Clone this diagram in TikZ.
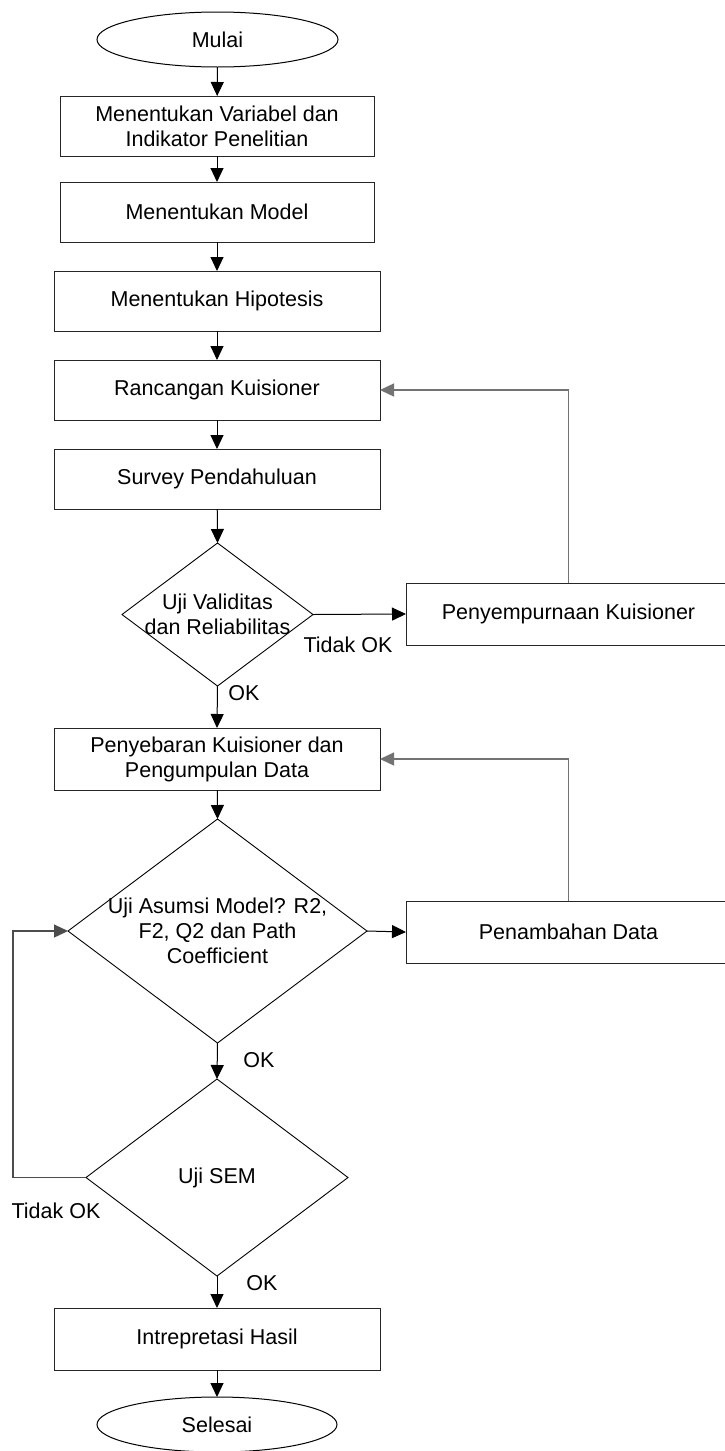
\documentclass[tikz,border=0pt]{standalone}
\usepackage{fontspec}
\setmainfont{Liberation Sans}
\usetikzlibrary{shapes.geometric,arrows.meta}
\begin{document}
\begin{tikzpicture}[x=1pt,y=-1pt,
  every node/.style={font=\fontsize{21.5}{25}\selectfont, align=center, inner sep=0pt, outer sep=0pt},
  box/.style={draw=black!85, line width=1pt, rectangle, minimum height=60pt},
  term/.style={draw=black, line width=1pt, ellipse, minimum width=241pt, minimum height=55pt},
  dia/.style={draw=black, line width=0.9pt, diamond},
  arr/.style={draw=black, line width=1pt, -{Triangle[length=14pt,width=13pt]}},
  back/.style={draw=black!55, line width=1.3pt, -{Triangle[length=14pt,width=13pt]}},
  lbl/.style={font=\fontsize{21.5}{25}\selectfont}
]
\useasboundingbox (0,0) rectangle (725,1451);
\fill[white] (0,0) rectangle (725,1451);
\clip (0,0) rectangle (725,1451);

\node[term] (start) at (217.5,39.5) {Mulai};
\node[box, minimum width=314pt] (b1) at (217,126) {Menentukan Variabel dan\\Indikator Penelitian};
\node[box, minimum width=314pt] (b2) at (217,212) {Menentukan Model};
\node[box, minimum width=326pt] (b3) at (217,301) {Menentukan Hipotesis};
\node[box, minimum width=326pt] (b4) at (217,390) {Rancangan Kuisioner};
\node[box, minimum width=326pt] (b5) at (217,479) {Survey Pendahuluan};

\node[dia, minimum width=191pt, minimum height=143pt] (d1) at (217.5,614.5) {};
\node (d1t) at (217.5,614.5) {Uji Validitas\\dan Reliabilitas};

\node[box, minimum width=325pt, minimum height=62pt] (p1) at (568.5,614) {Penyempurnaan Kuisioner};

\node[box, minimum width=326pt, minimum height=62pt] (b6) at (217,759) {Penyebaran Kuisioner dan\\Pengumpulan Data};

\node[dia, minimum width=299pt, minimum height=224pt] (d2) at (217.5,931) {};
\node (d2t) at (217.5,931) {Uji Asumsi Model? R2,\\F2, Q2 dan Path\\Coefficient};

\node[box, minimum width=325pt, minimum height=62pt] (p2) at (568.5,932) {Penambahan Data};

\node[dia, minimum width=262pt, minimum height=197pt] (d3) at (217,1177.5) {};
\node (d3t) at (217,1177.5) {Uji SEM};

\node[box, minimum width=326pt, minimum height=62pt] (b7) at (217,1339) {Intrepretasi Hasil};
\node[term, minimum width=240pt] (end) at (217,1424.5) {Selesai};

\coordinate (lpa) at (13,1177.5);
\coordinate (lpb) at (13,931);

\draw[arr] (start) -- (b1);
\draw[arr] (b1) -- (b2);
\draw[arr] (b2) -- (b3);
\draw[arr] (b3) -- (b4);
\draw[arr] (b4) -- (b5);
\draw[arr] (b5) -- (d1.north);
\draw[arr] (d1.east) -- (p1.west);
\draw[back] (p1.north) |- (b4.east);
\draw[arr] (d1.south) -- (b6.north);
\draw[arr] (b6) -- (d2.north);
\draw[arr] (d2.east) -- (p2.west);
\draw[back] (p2.north) |- (b6.east);
\draw[arr] (d2.south) -- (d3.north);
\draw[back, draw=black!70] (d3.west) -- (lpa) -- (lpb) -- (d2.west);
\draw[arr] (d3.south) -- (b7.north);
\draw[arr] (b7) -- (end);

\node[lbl] (l1) at (348,645) {Tidak OK};
\node[lbl] (l2) at (244,693) {OK};
\node[lbl] (l3) at (259,1060) {OK};
\node[lbl] (l4) at (56,1211) {Tidak OK};
\node[lbl] (l5) at (262,1283) {OK};
\end{tikzpicture}
\end{document}
